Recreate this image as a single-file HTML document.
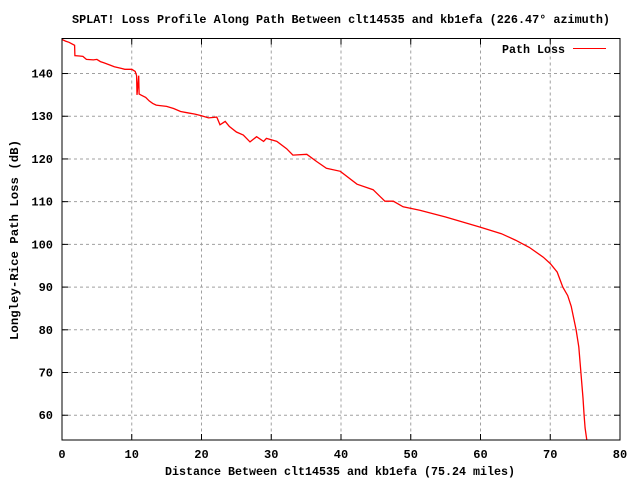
<!DOCTYPE html>
<html><head><meta charset="utf-8"><style>
html,body{margin:0;padding:0;background:#fff;}
svg text{font-family:"Liberation Mono","DejaVu Sans Mono",monospace;font-weight:bold;fill:#000;}
</style></head><body>
<svg id="chart" width="640" height="480" xmlns="http://www.w3.org/2000/svg">
<text x="341" y="23" text-anchor="middle" font-size="12" textLength="538" lengthAdjust="spacingAndGlyphs">SPLAT! Loss Profile Along Path Between clt14535 and kb1efa (226.47° azimuth)</text>
<text x="340" y="475" text-anchor="middle" font-size="12" textLength="350" lengthAdjust="spacingAndGlyphs">Distance Between clt14535 and kb1efa (75.24 miles)</text>
<text transform="translate(18,240) rotate(-90)" text-anchor="middle" font-size="12" textLength="200" lengthAdjust="spacingAndGlyphs">Longley-Rice Path Loss (dB)</text>
<g id="grid"></g><g id="ticks"></g>
<polyline id="series" fill="none" stroke="#ff0000" stroke-width="1.3"/>
<rect x="62" y="38.5" width="558" height="401.5" fill="none" stroke="#000" stroke-width="1"/>
<g>
<text x="565" y="53" text-anchor="end" font-size="12" textLength="63" lengthAdjust="spacingAndGlyphs">Path Loss</text>
<line x1="573" y1="48.5" x2="606" y2="48.5" stroke="#ff0000" stroke-width="1"/>
</g>
</svg>
<script>
const xTicks=[0,10,20,30,40,50,60,70,80];
const yTicks=[60,70,80,90,100,110,120,130,140];
const distances=[0,0.5,1,1.8,1.85,2.5,3,3.5,4.5,5,5.5,6,7,7.5,8.5,9,10,10.5,10.7,10.75,11,11.05,11.3,12,12.5,13,13.5,14.05,15,16,17,18,19.07,20,21,22.2,22.65,23.4,24,25,26,26.95,27.9,28.9,29.3,30.8,32.2,33.1,35.1,36.5,37.9,39.9,42.3,44.6,46.3,47.5,48.9,51.3,55,60,63,65,67,69,70,71,71.8,72.5,73,73.7,74.1,74.4,74.7,74.85,75,75.24];
const losses=[148,147.6,147.3,146.6,144.2,144.1,144,143.3,143.2,143.3,142.8,142.5,141.9,141.6,141.2,141,141,140.5,139.5,135,139.5,135.2,135,134.4,133.6,133,132.6,132.5,132.3,131.8,131.1,130.8,130.5,130.1,129.6,129.8,128,128.8,127.6,126.3,125.6,124,125.2,124.1,124.8,124.1,122.4,120.9,121.1,119.4,117.8,117.1,114.1,112.8,110.1,110.1,108.8,108,106.4,104,102.5,101,99.3,97,95.5,93.5,90,88,85.5,80,76,70,64,60,57,54.2];
const X0=62,X1=620,Y0=440,Y1=38.5,XMIN=0,XMAX=80,YMIN=54.2,YMAX=148.2;
const sx=v=>X0+(v-XMIN)/(XMAX-XMIN)*(X1-X0);
const sy=v=>Y0-(v-YMIN)/(YMAX-YMIN)*(Y0-Y1);
const NS='http://www.w3.org/2000/svg';
const grid=document.getElementById('grid'),ticks=document.getElementById('ticks');
function mk(tag,attrs,parent){const e=document.createElementNS(NS,tag);for(const k in attrs)e.setAttribute(k,attrs[k]);parent.appendChild(e);return e;}
xTicks.forEach(t=>{const x=sx(t);
 if(t>XMIN&&t<XMAX){const g=mk('line',{x1:x,y1:Y1,x2:x,y2:Y0,stroke:'#a0a0a0','stroke-dasharray':'3,3'},grid);
 
 }
 const tk=mk('line',{x1:x,y1:Y0,x2:x,y2:Y0-6,stroke:'#000'},ticks);
 
 
 const tt=mk('line',{x1:x,y1:Y1,x2:x,y2:Y1+6,stroke:'#000'},ticks);
 
 
 const lb=mk('text',{x:x,y:458,'text-anchor':'middle','font-size':'12'},ticks);lb.textContent=t;
 
 
});
yTicks.forEach(t=>{const y=sy(t);
 const g=mk('line',{x1:X0,y1:y,x2:X1,y2:y,stroke:'#a0a0a0','stroke-dasharray':'3,3'},grid);
 
 
 const tk=mk('line',{x1:X0,y1:y,x2:X0+6,y2:y,stroke:'#000'},ticks);
 
 
 const tr=mk('line',{x1:X1,y1:y,x2:X1-6,y2:y,stroke:'#000'},ticks);
 
 
 const lb=mk('text',{x:53,y:y+4,'text-anchor':'end','font-size':'12'},ticks);lb.textContent=t;
 
 
});
document.getElementById('series').setAttribute('points',distances.map((d,i)=>sx(d).toFixed(1)+','+sy(losses[i]).toFixed(1)).join(' '));
</script>
</body></html>
